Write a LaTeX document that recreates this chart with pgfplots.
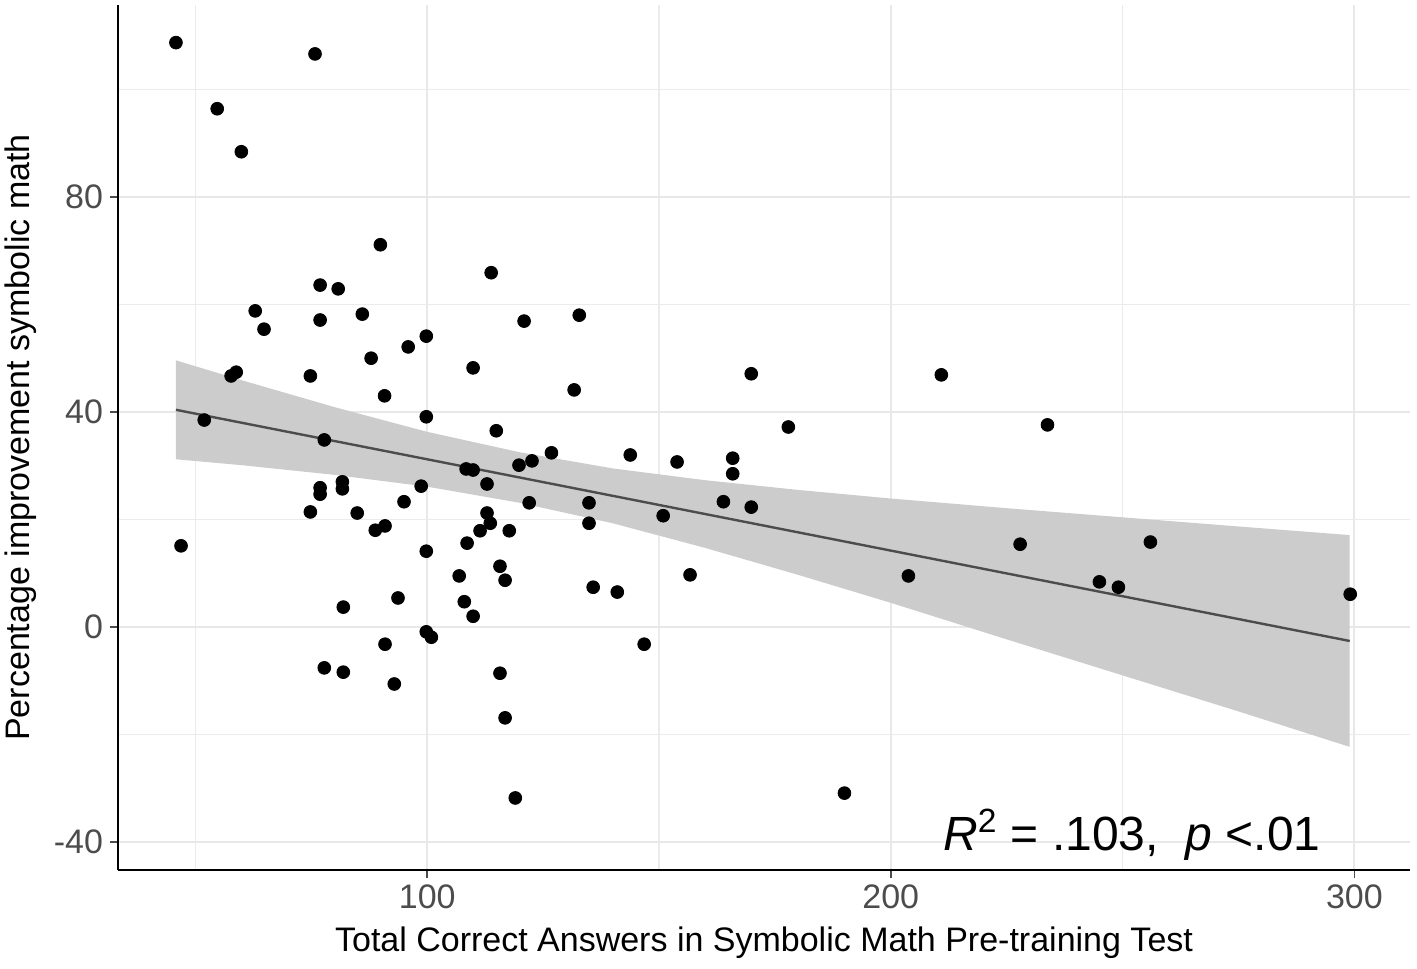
\documentclass[border=0pt]{standalone}
\usepackage{pgfplots}
\pgfplotsset{compat=1.18}
\usepackage{fontspec}
\setmainfont{Liberation Sans}
\begin{document}
\begin{tikzpicture}
\useasboundingbox (-59bp,-49.5bp) rectangle (649.5bp,435bp);
\begin{axis}[at={(0,0)},anchor=south west,scale only axis,width=646bp,height=432.5bp,
 xmin=33.3,xmax=312,ymin=-45.2,ymax=115.7,
 axis lines*=left,
 every outer x axis line/.append style={black,line width=1.5pt},
 every outer y axis line/.append style={black,line width=1.5pt},
 axis line style={black,line width=1.5pt},
 xtick={100,200,300}, ytick={-40,0,40,80},
 minor xtick={50,150,250}, minor ytick={-20,20,60,100},
 grid=both, major grid style={color=black!9,line width=1.1pt}, minor grid style={color=black!8,line width=0.6pt},
 tick style={black!70,line width=0.8pt}, major tick length=4bp, minor tick length=0pt,
 tick align=outside, tick pos=left,
 ticklabel style={font=\fontsize{17bp}{20bp}\selectfont,text=black!70},
 /pgf/number format/assume math mode=true,
 xlabel={Total Correct Answers in Symbolic Math Pre-training Test},
 ylabel={Percentage improvement symbolic math},
 label style={font=\fontsize{17bp}{20bp}\selectfont},
 xlabel style={yshift=-2bp}, ylabel style={yshift=2bp},
 clip=false]
\addplot[fill=black!20,draw=none] coordinates {(45.8,49.6)(60,45.9)(80,40.9)(100,36.3)(120,32.5)(140,29.5)(160,27.3)(180,25.5)(200,23.9)(225,22.1)(250,20.4)(275,18.7)(299,17.1)(299,-22.3)(275,-15.7)(250,-9.0)(225,-2.3)(200,4.5)(180,9.7)(160,14.7)(140,19.3)(120,23.1)(100,26.1)(80,28.3)(60,30.1)(45.8,31.2)} -- cycle;
\addplot[black!70,line width=1.2pt] coordinates {(45.8,40.4)(299,-2.6)};
\addplot[only marks,mark=*,mark size=3.2bp,black] coordinates {
(45.8,108.7)(75.8,106.6)(54.7,96.4)(59.9,88.4)(89.9,71.1)(113.8,65.9)(76.9,63.6)(80.8,62.9)(62.9,58.8)(86.0,58.2)(132.8,58.0)(76.9,57.1)(120.9,56.9)(64.8,55.4)(99.8,54.1)(95.9,52.1)(87.9,50.0)(109.9,48.2)(58.8,47.4)(57.7,46.7)(169.9,47.1)(210.9,46.9)(74.8,46.7)(131.7,44.1)(90.8,43.0)(51.9,38.5)(99.8,39.1)(233.8,37.6)(177.9,37.2)(114.9,36.5)(77.8,34.8)(126.8,32.4)(143.8,32.0)(165.9,31.4)(122.6,30.9)(153.9,30.7)(119.8,30.1)(108.4,29.4)(109.9,29.2)(165.9,28.5)(81.7,27.0)(112.9,26.6)(76.9,25.9)(98.7,26.2)(81.7,25.7)(76.9,24.7)(95.0,23.3)(134.9,23.1)(122.0,23.1)(163.9,23.3)(169.9,22.3)(74.8,21.4)(84.9,21.2)(112.9,21.2)(150.9,20.7)(113.6,19.3)(134.9,19.3)(90.9,18.8)(88.8,18.0)(111.4,17.9)(117.7,17.9)(46.9,15.1)(108.6,15.6)(227.9,15.4)(256.0,15.8)(99.8,14.1)(115.7,11.3)(106.9,9.5)(156.7,9.7)(203.8,9.5)(116.8,8.7)(245.0,8.4)(249.1,7.4)(135.8,7.4)(141.0,6.5)(299.1,6.1)(93.7,5.4)(108.0,4.7)(81.9,3.7)(109.9,2.0)(99.8,-0.9)(100.9,-1.9)(146.8,-3.2)(90.9,-3.2)(77.8,-7.6)(115.7,-8.6)(81.9,-8.4)(92.9,-10.6)(116.8,-16.9)(119.0,-31.8)(190.0,-30.9)};
\node[font=\fontsize{24bp}{28bp}\selectfont,anchor=base] at (axis cs:252,-41.5) {\textit{R}\textsuperscript{2} = .103,\ \ \textit{p} <.01};
\end{axis}
\end{tikzpicture}
\end{document}
